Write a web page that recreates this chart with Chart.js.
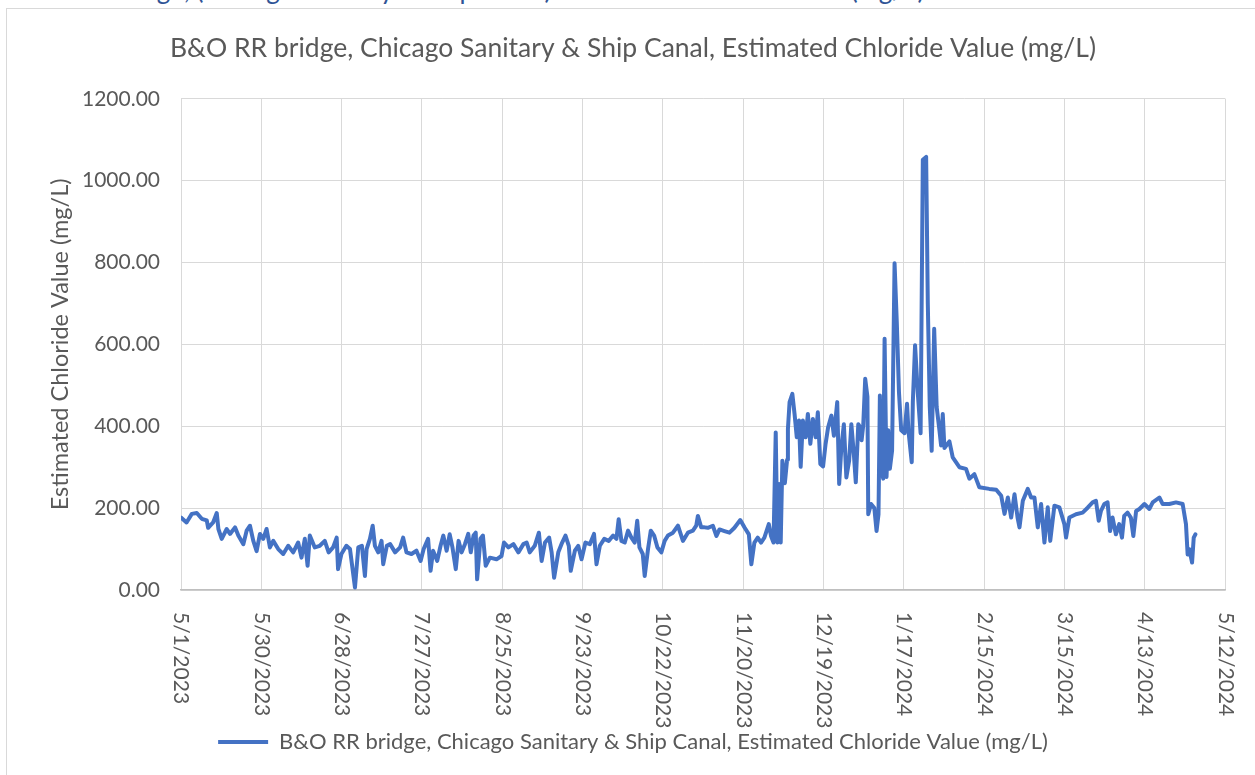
<!DOCTYPE html>
<html>
<head>
<meta charset="utf-8">
<script src="https://cdn.jsdelivr.net/npm/chart.js@4.4.1/dist/chart.umd.min.js"></script>
<style>
  html, body { margin: 0; padding: 0; background: #fff; overflow: hidden; }
  body { width: 1255px; height: 775px; position: relative; font-family: Lato, sans-serif; }
  .doc-heading { position: absolute; left: 10px; top: -27px; font-size: 26px; color: #2F5496; white-space: nowrap; }
  .chart-box { position: absolute; left: 6px; top: 8px; width: 1260px; height: 780px; border: 1px solid #d9d9d9; background: #fff; }
  #chlorideChart { position: absolute; left: 0; top: 0; }
</style>
</head>
<body>
<div class="doc-heading">B&amp;O RR bridge, (Chicago Sanitary &amp; Ship Canal) Estimated Chloride Value (mg/L)</div>
<div class="chart-box">
  <canvas id="chlorideChart" width="1248" height="766"></canvas>
</div>
<script>
// days since 5/1/2023
const dayOffsets = [
    0, 2, 3.9, 5.7, 7.5, 9.3, 9.8, 11.6, 12.9, 13.5, 14.7, 16.5, 17.7, 19.5, 20.7, 22.5, 23.7, 24.9, 26.1, 27.3,
    28.5, 29.7, 30.9, 32.1, 33.3, 35.1, 36.9, 38.7, 40.5, 42.3, 43.5, 44.7, 45.7, 46.5, 48.3, 50.1, 51.9, 53.3, 54.9, 56.2,
    56.7, 57.9, 59.7, 61, 62.8, 64, 65.3, 66.4, 67, 68.2, 69.2, 70, 71.2, 72.4, 73, 74.3, 75.5, 77.3, 79.1, 80.2,
    81.4, 83.2, 85, 86.5, 87.6, 89.2, 90.1, 91, 92.5, 93.7, 94.7, 95.9, 97, 98, 99.2, 100.2, 101.3, 102.5, 103.7, 104.6,
    105.6, 106.4, 106.9, 108.1, 109, 110, 111.5, 113.9, 115.7, 116.6, 118.2, 120, 121.8, 123.6, 124.8, 125.9, 127.7, 129.2, 130.2, 131.4,
    132.9, 133.8, 134.7, 136.2, 137.6, 138.8, 140, 140.7, 142.2, 143.4, 144.6, 146, 147.6, 149.1, 150, 151.2, 152.8, 154.4, 156, 157.2,
    158, 159, 160.2, 161.4, 162.6, 163.8, 164.7, 165.5, 166.7, 167.4, 168.6, 169.6, 170.8, 172, 173.4, 174.6, 175.8, 177.6, 179.4, 181.2,
    183, 184.8, 186, 186.6, 187.8, 189, 190.2, 192, 193.3, 194.4, 196.2, 198, 199.8, 201.9, 203.5, 205, 205.9, 207, 208.2, 209.4,
    210.6, 212.2, 213, 213.9, 214.7, 215.3, 215.9, 216.5, 217.1, 218, 218.8, 219.1, 219.7, 220.7, 221.5, 222.3, 223.1, 223.7, 224.5, 225.5,
    226.3, 227.2, 228.1, 229.1, 229.9, 230.8, 231.8, 232.7, 233.6, 234.8, 235.7, 236.9, 237.6, 238.4, 239.3, 240.2, 241.2, 242, 242.9, 243.6,
    244.5, 245, 245.7, 246.3, 247, 247.8, 248.1, 249.1, 250.3, 251.1, 251.8, 252.3, 252.9, 253.5, 254, 254.7, 255.3, 255.9, 256.7, 257.6,
    258.4, 259.2, 260, 261.2, 262.1, 262.6, 263.8, 264.2, 265, 266, 267, 267.8, 269, 269.6, 270.3, 271, 271.9, 272.8, 273.8, 274.4,
    275, 275.6, 277.4, 278.6, 281, 283.4, 284.6, 286.4, 288.2, 291.8, 294.3, 296.1, 297.3, 298.5, 299.7, 300.9, 302, 302.7, 303.9, 305.7,
    306.9, 308.1, 309.3, 310.5, 311.7, 312.9, 313.8, 315.3, 317.1, 318.9, 319.5, 320.7, 323.1, 325.5, 327.3, 329.1, 330.3, 331.3, 332.1, 333.3,
    334.5, 335.4, 336.3, 337.5, 338.7, 339.7, 340.5, 341.7, 342.9, 343.8, 344.8, 346, 347.8, 349.6, 350.8, 353.2, 354.4, 356.8, 359.2, 361.6,
    362.8, 363.4, 364, 365, 365.6, 366.2
];

// estimated chloride, mg/L
const chloride = [
    177, 165, 186, 188, 174, 170, 152, 165, 188, 149, 125, 149, 137, 153, 133, 112, 145, 157, 120, 95,
    137, 125, 149, 104, 120, 100, 88, 108, 92, 116, 79, 125, 59, 133, 104, 108, 120, 92, 104, 128,
    51, 88, 108, 100, 6, 104, 108, 34, 100, 125, 157, 108, 92, 120, 63, 108, 112, 92, 104, 128,
    92, 88, 96, 71, 100, 125, 47, 96, 71, 108, 133, 96, 136, 104, 51, 120, 92, 112, 137, 92,
    133, 140, 26, 125, 133, 59, 79, 75, 83, 116, 104, 112, 92, 112, 116, 92, 108, 140, 71, 116,
    128, 92, 30, 92, 116, 133, 108, 47, 96, 108, 75, 116, 112, 137, 63, 108, 125, 120, 133, 125,
    173, 120, 116, 145, 128, 116, 169, 104, 88, 34, 100, 145, 133, 104, 92, 120, 133, 140, 157, 120,
    140, 145, 157, 181, 153, 153, 152, 157, 132, 148, 144, 140, 152, 171, 152, 136, 63, 116, 128, 116,
    128, 161, 132, 116, 385, 116, 259, 116, 316, 261, 318, 393, 459, 479, 430, 373, 414, 301, 414, 373,
    430, 357, 418, 373, 434, 308, 302, 357, 397, 426, 377, 459, 259, 349, 405, 275, 316, 405, 332, 263,
    405, 400, 366, 403, 516, 472, 185, 210, 200, 144, 185, 475, 292, 272, 614, 276, 390, 296, 340, 798,
    655, 482, 390, 383, 455, 390, 312, 460, 598, 480, 383, 1051, 1058, 700, 450, 340, 638, 447, 390, 353,
    430, 347, 363, 324, 300, 296, 272, 283, 251, 247, 245, 230, 186, 226, 177, 234, 177, 153, 218, 247,
    226, 226, 153, 210, 116, 202, 120, 206, 202, 161, 128, 177, 185, 189, 201, 214, 218, 169, 193, 210,
    214, 144, 177, 136, 161, 128, 181, 189, 177, 132, 193, 198, 210, 198, 214, 226, 210, 210, 214, 210,
    161, 87, 100, 67, 128, 136
];

const xTickLabels = ['5/1/2023', '5/30/2023', '6/28/2023', '7/27/2023', '8/25/2023', '9/23/2023', '10/22/2023',
    '11/20/2023', '12/19/2023', '1/17/2024', '2/15/2024', '3/15/2024', '4/13/2024', '5/12/2024'];
const tickStepDays = 29;

const seriesName = 'B&O RR bridge, Chicago Sanitary & Ship Canal, Estimated Chloride Value (mg/L)';
const axisTitle = 'Estimated Chloride Value (mg/L)';

const textColor = '#595959';
const lineColor = '#4472C4';
const gridColor = '#d9d9d9';

// Excel style labels that read top to bottom
const verticalDateLabels = {
    id: 'verticalDateLabels',
    afterDraw(chart) {
        const scale = chart.scales.x;
        const ctx = chart.ctx;
        ctx.save();
        ctx.font = '21px Lato';
        ctx.fillStyle = textColor;
        ctx.textAlign = 'left';
        ctx.textBaseline = 'middle';
        scale.ticks.forEach(tick => {
            const px = scale.getPixelForValue(tick.value);
            ctx.save();
            ctx.translate(px, scale.top + 22);
            ctx.rotate(Math.PI / 2);
            ctx.fillText(tick.label, 0, 0);
            ctx.restore();
        });
        ctx.restore();
    }
};

const points = dayOffsets.map((d, i) => ({ x: d, y: chloride[i] }));

new Chart(document.getElementById('chlorideChart'), {
    type: 'line',
    data: {
        datasets: [{
            label: seriesName,
            data: points,
            borderColor: lineColor,
            backgroundColor: lineColor,
            borderWidth: 4,
            pointRadius: 0,
            tension: 0,
            borderJoinStyle: 'round',
            borderCapStyle: 'round'
        }]
    },
    options: {
        responsive: false,
        animation: false,
        layout: { padding: { left: 33, right: 29, top: 0, bottom: 12 } },
        plugins: {
            title: {
                display: true,
                text: seriesName,
                color: textColor,
                font: { family: 'Lato', size: 26.5, weight: 'normal' },
                padding: { top: 24, bottom: 34 }
            },
            legend: {
                position: 'bottom',
                labels: {
                    color: textColor,
                    font: { family: 'Lato', size: 22 },
                    usePointStyle: true,
                    pointStyle: 'line',
                    pointStyleWidth: 50,
                    padding: 8
                }
            },
            tooltip: { enabled: false }
        },
        scales: {
            x: {
                type: 'linear',
                min: 0,
                max: tickStepDays * (xTickLabels.length - 1),
                ticks: {
                    stepSize: tickStepDays,
                    color: 'transparent',
                    maxRotation: 0,
                    autoSkip: false,
                    callback: (value) => xTickLabels[Math.round(value / tickStepDays)]
                },
                grid: { color: gridColor, drawTicks: false },
                border: { color: '#bfbfbf', width: 1.5 },
                afterFit: (scale) => { scale.height = 133; }
            },
            y: {
                min: 0,
                max: 1200,
                ticks: {
                    stepSize: 200,
                    color: textColor,
                    padding: 21,
                    font: { family: 'Lato', size: 21 },
                    callback: (value) => value.toFixed(2)
                },
                grid: { color: gridColor, drawTicks: false },
                border: { display: false },
                title: {
                    display: true,
                    text: axisTitle,
                    color: textColor,
                    font: { family: 'Lato', size: 23.5 },
                    padding: { top: 6, bottom: 0 }
                },
                afterFit: (scale) => { scale.width = 141; }
            }
        }
    },
    plugins: [verticalDateLabels]
});
</script>
</body>
</html>
